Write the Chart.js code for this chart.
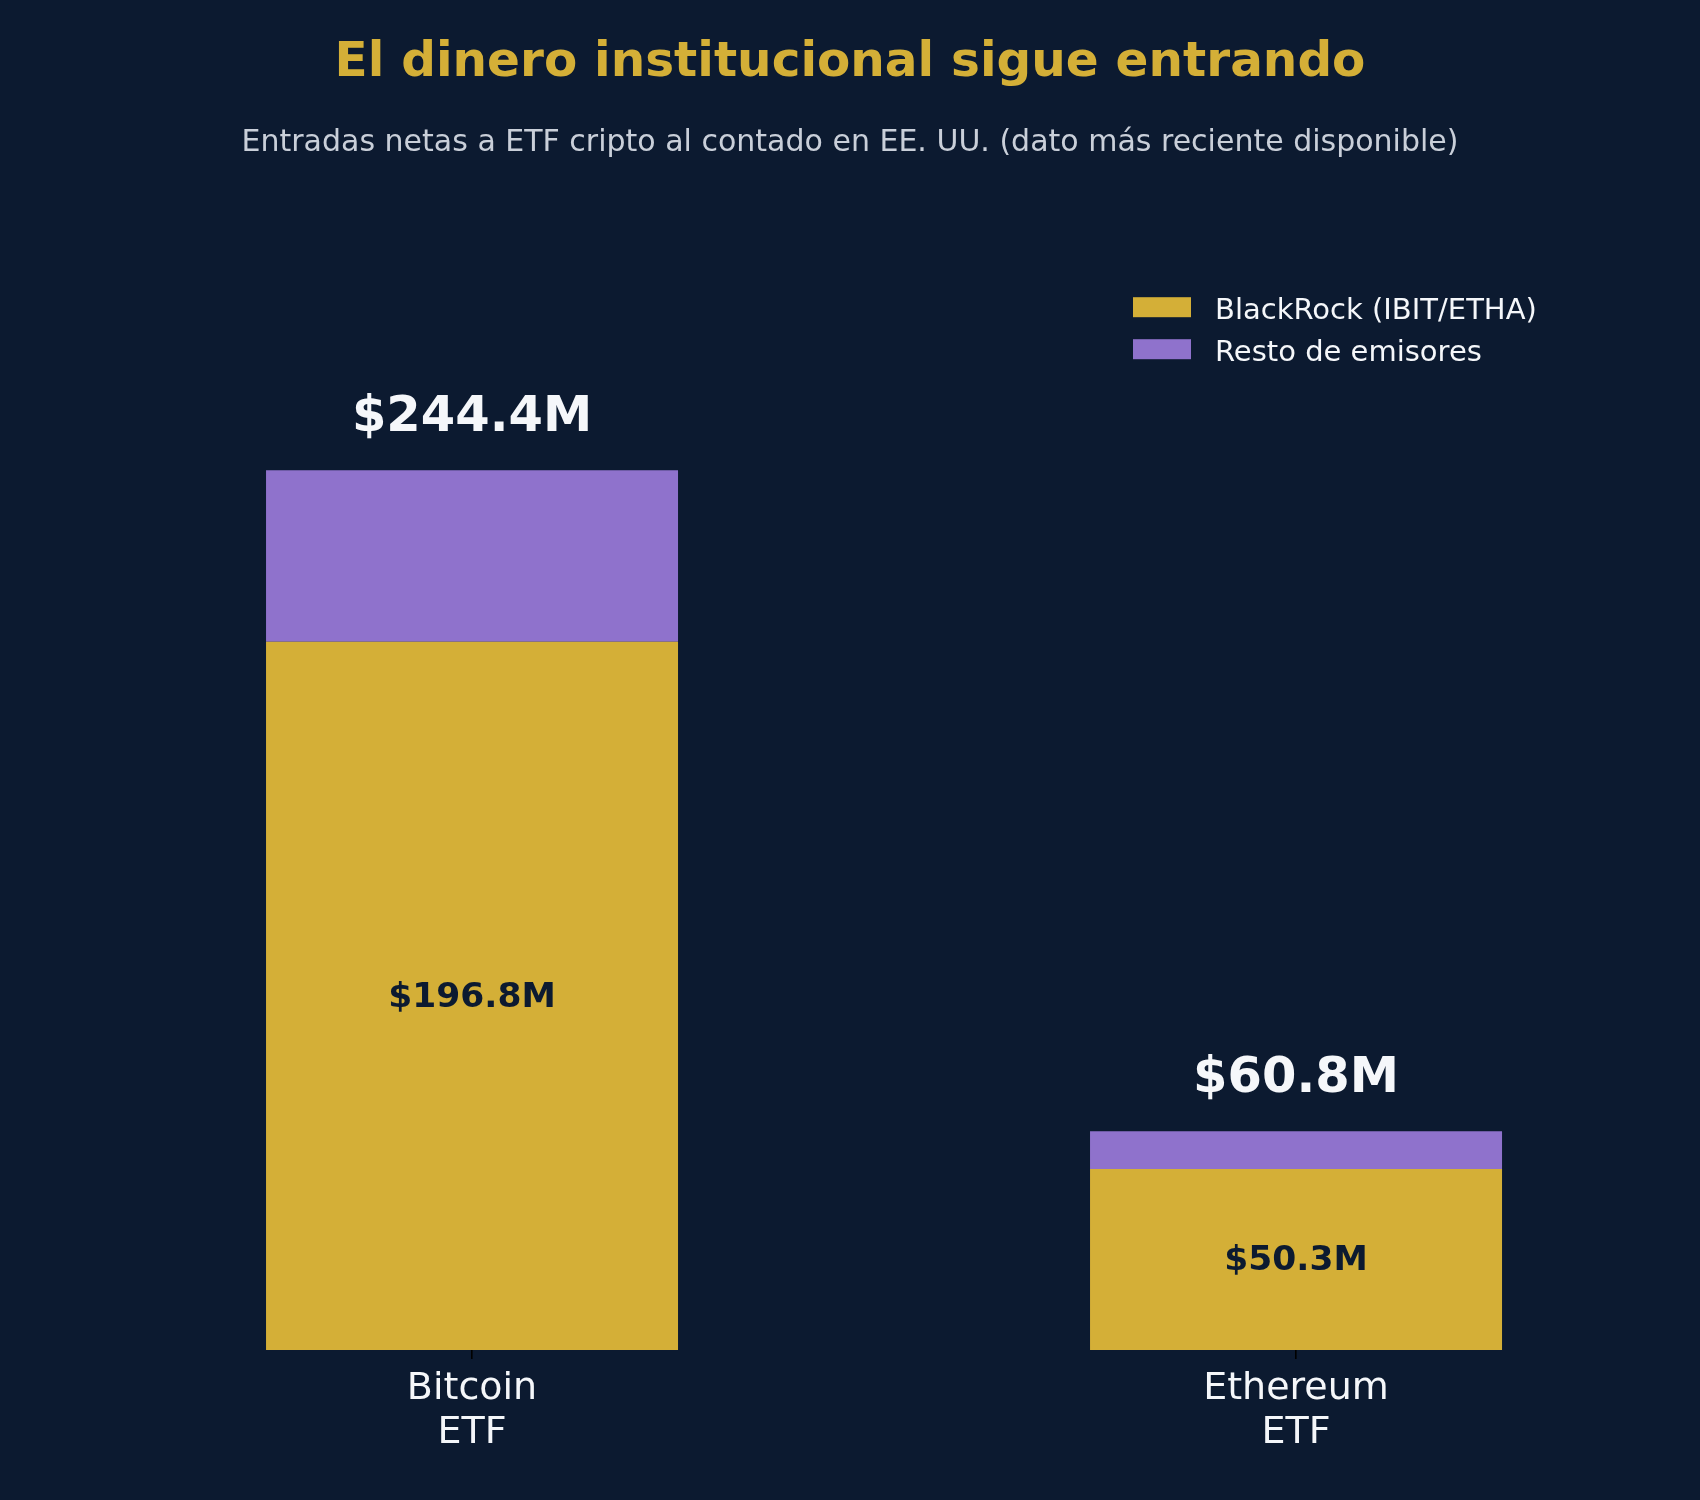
<!DOCTYPE html>
<html>
<head>
<meta charset="utf-8">
<script src="https://cdn.jsdelivr.net/npm/chart.js@4.4.1/dist/chart.umd.min.js"></script>
<style>
  html, body { margin: 0; padding: 0; background: #0c1a30; }
  canvas { display: block; }
</style>
</head>
<body>
<canvas id="etfChart" width="1700" height="1500"></canvas>
<script>
// data
var categories = [["Bitcoin", "ETF"], ["Ethereum", "ETF"]];
var seriesNames = ["BlackRock (IBIT/ETHA)", "Resto de emisores"];
var blackrockValues = [196.8, 50.3];
var restValues = [47.6, 10.5];
var seriesColors = ["#d4af37", "#8f72cc"];

var bg = "#0c1a30";

function points(values) {
  return values.map(function (v, i) { return { x: i, y: v }; });
}

function money(v) {
  return "$" + v.toFixed(1) + "M";
}

// background fill
var bgPlugin = {
  id: "bg",
  beforeDraw: function (chart) {
    var ctx = chart.ctx;
    ctx.save();
    ctx.fillStyle = bg;
    ctx.fillRect(0, 0, chart.width, chart.height);
    ctx.restore();
  }
};

// totals above bars, BlackRock value inside gold segment
var valueLabels = {
  id: "valueLabels",
  afterDatasetsDraw: function (chart) {
    var ctx = chart.ctx;
    var gold = chart.getDatasetMeta(0).data;
    var top = chart.getDatasetMeta(1).data;
    ctx.save();
    ctx.textAlign = "center";
    ctx.textBaseline = "alphabetic";
    categories.forEach(function (c, i) {
      var total = blackrockValues[i] + restValues[i];
      ctx.fillStyle = "#f5f7fa";
      ctx.font = "bold 49.5px 'DejaVu Sans'";
      ctx.fillText(money(total), top[i].x, top[i].y - 39);

      var mid = (gold[i].y + gold[i].base) / 2;
      ctx.fillStyle = bg;
      ctx.font = "bold 34.5px 'DejaVu Sans'";
      ctx.fillText(money(blackrockValues[i]), gold[i].x, mid + 11);
    });
    ctx.restore();
  }
};

// legend in the upper right corner of the plot
var cornerLegend = {
  id: "cornerLegend",
  afterDraw: function (chart) {
    var ctx = chart.ctx;
    var area = chart.chartArea;
    var x0 = area.right - 431;
    var y0 = area.top + 27;
    ctx.save();
    ctx.font = "29px 'DejaVu Sans'";
    ctx.textAlign = "left";
    ctx.textBaseline = "alphabetic";
    chart.data.datasets.forEach(function (ds, i) {
      var y = y0 + i * 42;
      ctx.fillStyle = ds.backgroundColor;
      ctx.fillRect(x0, y, 58, 20);
      ctx.fillStyle = "#f5f7fa";
      ctx.fillText(ds.label, x0 + 82, y + 22);
    });
    ctx.restore();
  }
};

new Chart(document.getElementById("etfChart"), {
  type: "bar",
  data: {
    datasets: [
      { label: seriesNames[0], data: points(blackrockValues), backgroundColor: seriesColors[0] },
      { label: seriesNames[1], data: points(restValues), backgroundColor: seriesColors[1] }
    ]
  },
  plugins: [bgPlugin, valueLabels, cornerLegend],
  options: {
    responsive: false,
    animation: false,
    devicePixelRatio: 1,
    barPercentage: 1,
    categoryPercentage: 0.5,
    borderWidth: 0,
    layout: { padding: { top: 0, left: 136, right: 136, bottom: 0 } },
    plugins: {
      legend: { display: false },
      tooltip: { enabled: false },
      title: {
        display: true,
        text: "El dinero institucional sigue entrando",
        color: "#d4af37",
        font: { family: "DejaVu Sans", size: 48.5, weight: "bold", lineHeight: 1.2 },
        padding: { top: 34.5, bottom: 0 }
      },
      subtitle: {
        display: true,
        text: "Entradas netas a ETF cripto al contado en EE. UU. (dato más reciente disponible)",
        color: "#c9cfd9",
        font: { family: "DejaVu Sans", size: 30, lineHeight: 1.2 },
        padding: { top: 33, bottom: 108.5 }
      }
    },
    scales: {
      x: {
        type: "linear",
        stacked: true,
        offset: false,
        min: -0.4078,
        max: 1.3252,
        afterBuildTicks: function (scale) {
          scale.ticks = categories.map(function (c, i) { return { value: i }; });
        },
        afterFit: function (scale) { scale.height = 150; },
        grid: {
          offset: false,
          drawOnChartArea: false,
          drawTicks: true,
          tickLength: 9,
          tickColor: "#000000",
          lineWidth: 1.6
        },
        border: { display: false },
        ticks: {
          color: "#f5f7fa",
          padding: 8.5,
          font: { family: "DejaVu Sans", size: 38, lineHeight: 1.15 },
          callback: function (value) { return categories[value]; }
        }
      },
      y: {
        stacked: true,
        display: false,
        min: 0,
        max: 300
      }
    }
  }
});
</script>
</body>
</html>
